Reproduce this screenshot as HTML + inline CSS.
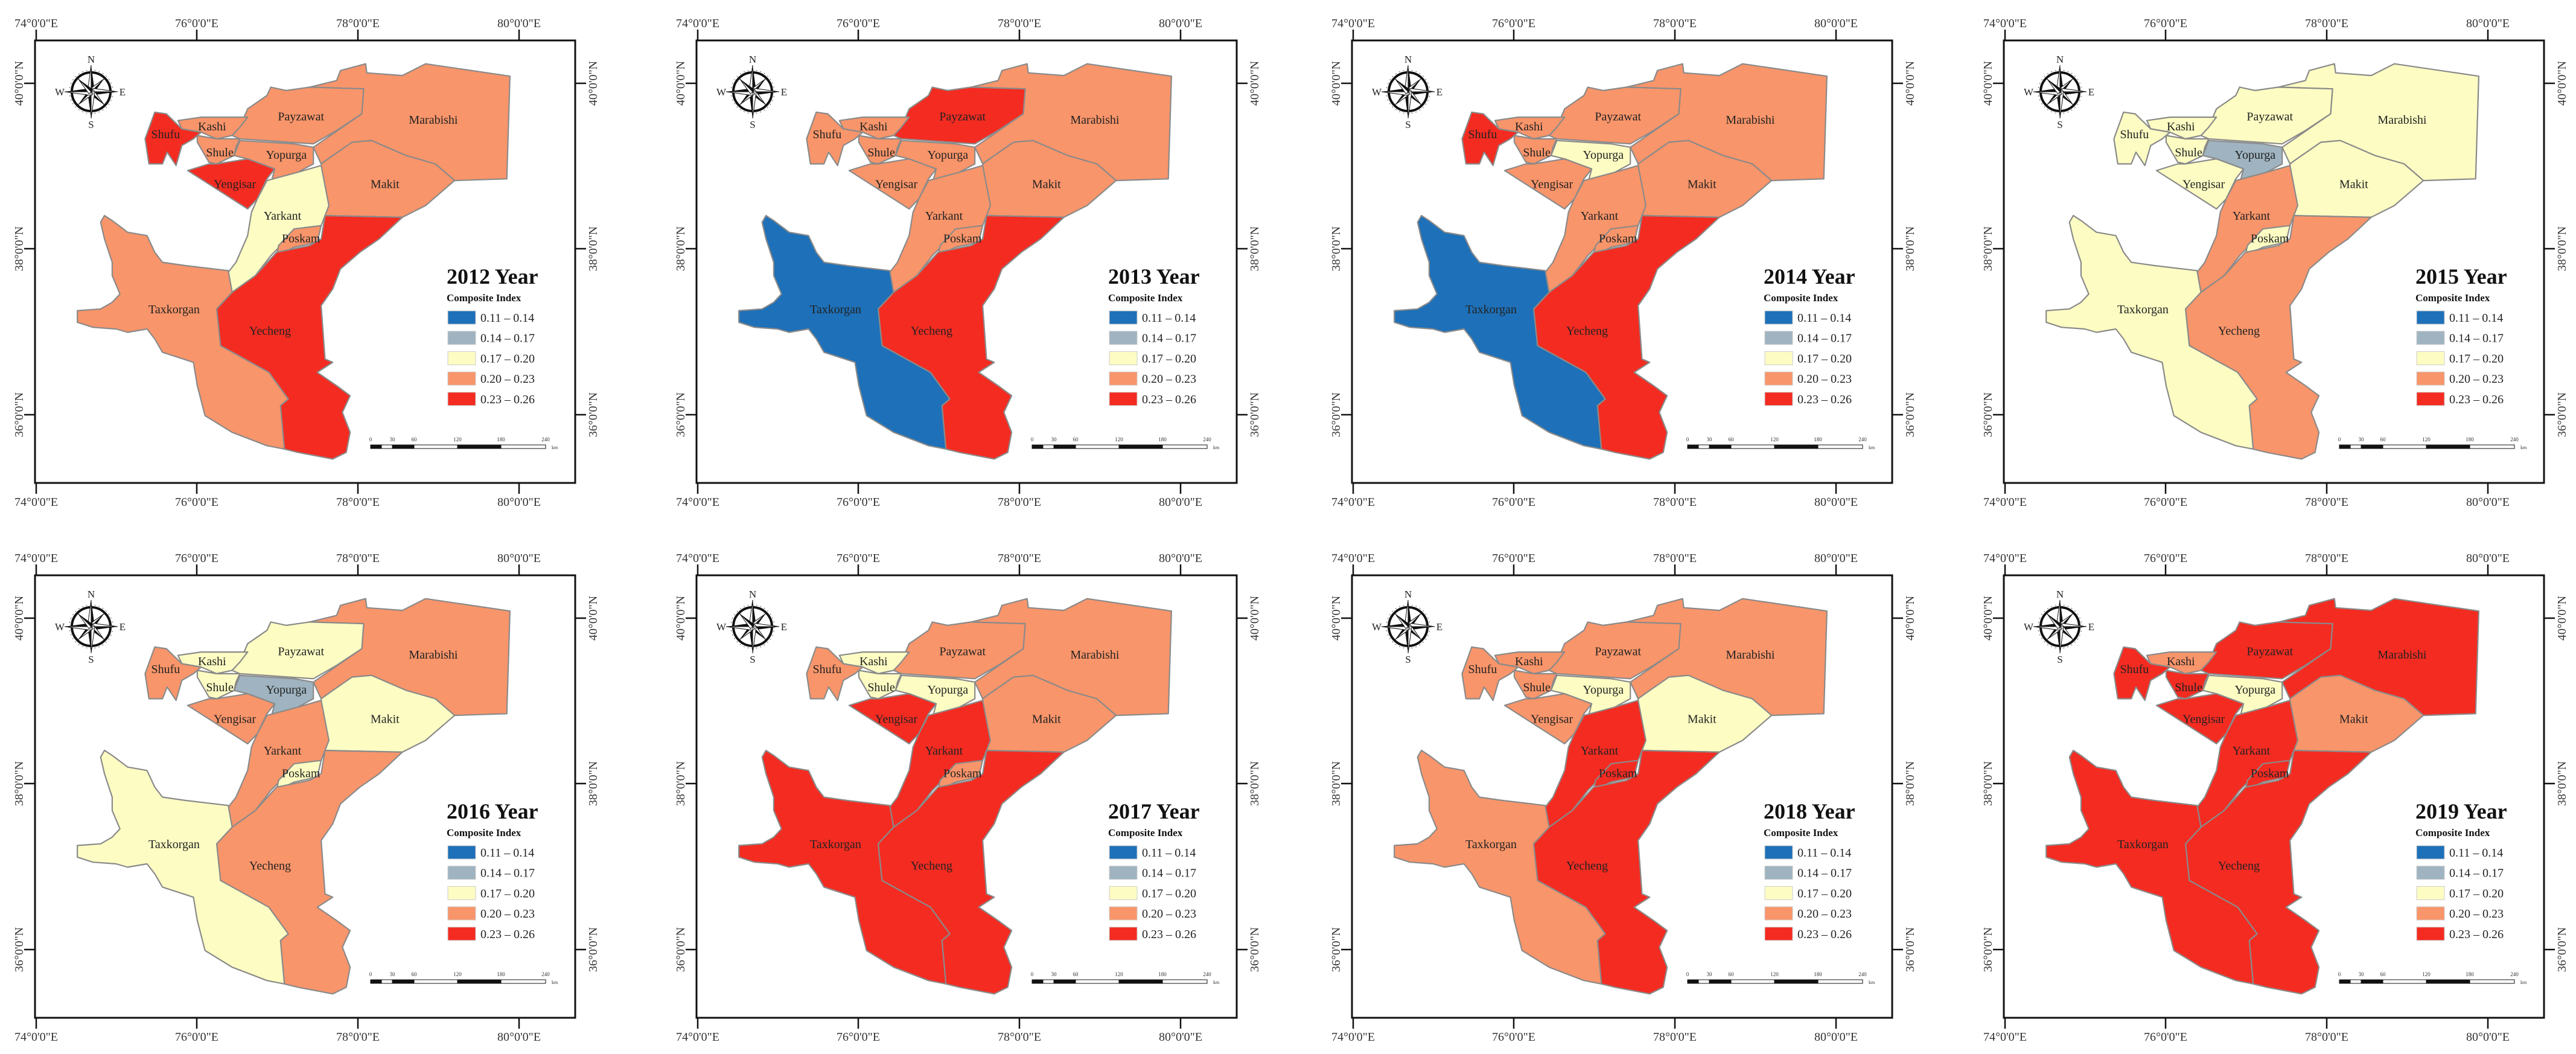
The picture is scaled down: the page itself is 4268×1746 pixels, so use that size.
<!DOCTYPE html>
<html><head><meta charset="utf-8">
<style>
html,body{margin:0;padding:0;background:#fff;}
svg{display:block;}
text{font-family:"Liberation Serif",serif;}
</style></head>
<body>
<svg id="root" width="4268" height="1746" viewBox="0 0 4268 1746" xmlns="http://www.w3.org/2000/svg"></svg>
<script>
const years = ['2012','2013','2014','2015','2016','2017','2018','2019'];
const districts = ['Marabishi','Payzawat','Kashi','Shufu','Shule','Yopurga','Yengisar','Makit','Yarkant','Poskam','Yecheng','Taxkorgan'];
const classes2012 = [3,3,3,4,3,3,4,3,2,3,4,3];
const classes2013 = [3,4,3,3,3,3,3,3,3,3,4,0];
const classes2014 = [3,3,3,4,3,2,3,3,3,3,4,0];
const classes2015 = [2,2,2,2,2,1,2,2,3,2,3,2];
const classes2016 = [3,2,2,3,2,1,3,2,3,2,3,2];
const classes2017 = [3,3,2,3,2,2,4,3,4,3,4,4];
const classes2018 = [3,3,3,3,3,2,3,2,4,4,4,3];
const classes2019 = [4,4,3,4,4,2,4,3,4,4,4,4];
const legendLabels = ['0.11 – 0.14','0.14 – 0.17','0.17 – 0.20','0.20 – 0.23','0.23 – 0.26'];
const lonTicks = ['74°0\'0"E','76°0\'0"E','78°0\'0"E','80°0\'0"E'];
const latTicks = ['40°0\'0"N','38°0\'0"N','36°0\'0"N'];
const scaleLabels = ['0','30','60','120','180','240'];
const allClasses=[classes2012,classes2013,classes2014,classes2015,classes2016,classes2017,classes2018,classes2019];
const palette=['#1e70b8','#9fb4c0','#fdfdc3','#f9956a','#f42b21'];

const shapes={
Marabishi:"800,265 870,245 880,215 945,195 948,222 1040,230 1100,195 1318,232 1310,540 1175,545 1125,495 1050,470 960,425 910,430 848,480 830,495 810,445 935,345 940,270",
Payzawat:"690,290 700,265 740,275 800,265 940,270 935,345 870,395 810,435 620,420 600,410 620,385 640,330",
Kashi:"460,365 520,355 640,355 620,385 600,410 560,420 520,400 470,390",
Shufu:"400,340 430,345 470,390 520,400 500,420 470,440 455,500 432,460 420,495 385,495 375,420",
Shule:"510,410 560,420 620,420 610,445 605,470 560,495 540,490 510,430",
Yopurga:"620,425 760,435 810,445 810,495 770,520 745,545 700,555 710,510 640,480 605,470",
Yengisar:"485,515 540,495 560,495 640,480 710,510 690,540 665,600 640,630",
Makit:"848,480 910,430 960,425 1050,470 1125,495 1175,545 1100,620 1040,655 840,650 830,495",
Yarkant:"690,545 770,520 830,500 850,620 830,680 760,700 700,770 660,830 600,880 590,820 610,790 640,710 650,640 665,600",
Poskam:"760,690 830,680 820,730 760,745 715,770 720,740",
Yecheng:"840,650 1040,655 980,720 930,760 880,810 860,870 830,920 840,1080 860,1090 820,1120 870,1160 905,1190 885,1240 905,1300 895,1360 860,1380 770,1360 735,1350 725,1220 745,1200 695,1120 570,1040 560,930 600,880 660,830 715,760 800,740 830,720",
Taxkorgan:"270,650 290,665 330,700 380,710 400,760 420,790 480,800 590,815 600,880 560,930 570,1040 695,1120 745,1200 725,1220 735,1350 690,1340 600,1300 530,1250 510,1160 500,1090 420,1060 400,1020 380,990 330,1000 300,990 240,985 200,970 200,935 260,930 290,910 310,885 290,830 290,790 270,720 260,670"
};
const labelPos={Payzawat:[778,352],Marabishi:[1120,362],Kashi:[548,382],Shufu:[428,405],Shule:[568,460],Yopurga:[740,467],Yengisar:[607,555],Makit:[995,555],Yarkant:[730,650],Poskam:[778,718],Taxkorgan:[450,930],Yecheng:[698,995]};

const NS='http://www.w3.org/2000/svg';
const root=document.getElementById('root');
function mk(tag,attrs,parent){const e=document.createElementNS(NS,tag);for(const k in attrs)e.setAttribute(k,attrs[k]);(parent||root).appendChild(e);return e;}
function tx(x){return x/1.56-58;}
function ty(y){return y/1.81-69;}
function conv(pts){return pts.split(' ').map(p=>{const [a,b]=p.split(',').map(Number);return tx(a).toFixed(1)+','+ty(b).toFixed(1);}).join(' ');}

const colX=[58,1154,2240,3320], rowY=[67,953];
const W=895,H=733;
const lonPx=[2,268,535,802], latPx=[71,345,620];

years.forEach((yr,i)=>{
  const ox=colX[i%4], oy=rowY[Math.floor(i/4)];
  const g=mk('g',{transform:`translate(${ox},${oy})`});
  
  
  const fr=mk('rect',{x:0,y:0,width:W,height:H,fill:'#fff',stroke:'#111','stroke-width':3},g);
  
  
  lonTicks.forEach((lab,j)=>{
    const x=lonPx[j];
    mk('line',{x1:x,y1:0,x2:x,y2:-18,stroke:'#111','stroke-width':2.5},g);
    mk('line',{x1:x,y1:H,x2:x,y2:H+18,stroke:'#111','stroke-width':2.5},g);
    const t1=mk('text',{x:x,y:-22,'font-size':20,'text-anchor':'middle',fill:'#333'},g);t1.textContent=lab;
    
    
    const t2=mk('text',{x:x,y:H+38,'font-size':20,'text-anchor':'middle',fill:'#333'},g);t2.textContent=lab;
    
    
  });
  latTicks.forEach((lab,j)=>{
    const y=latPx[j];
    mk('line',{x1:0,y1:y,x2:-18,y2:y,stroke:'#111','stroke-width':2.5},g);
    mk('line',{x1:W,y1:y,x2:W+18,y2:y,stroke:'#111','stroke-width':2.5},g);
    const t1=mk('text',{x:0,y:0,'font-size':20,'text-anchor':'middle',fill:'#333',transform:`translate(-20,${y}) rotate(-90)`},g);t1.textContent=lab;
    
    
    const t2=mk('text',{x:0,y:0,'font-size':20,'text-anchor':'middle',fill:'#333',transform:`translate(${W+36},${y}) rotate(-90)`},g);t2.textContent=lab;
    
    
  });
  const cls=allClasses[i];
  districts.forEach((d,k)=>{
    const p=mk('polygon',{points:conv(shapes[d]),fill:palette[cls[k]],stroke:'#8a8a8a','stroke-width':2.2,'stroke-linejoin':'round'},g);
    
    
  });
  districts.forEach(d=>{
    const [a,b]=labelPos[d];
    const t=mk('text',{x:tx(a),y:ty(b)+7,'font-size':20,'text-anchor':'middle',fill:'#222'},g);t.textContent=d;
    
    
  });
  const c=mk('g',{transform:'translate(93,85)'},g);
  
  
  mk('circle',{cx:0,cy:0,r:32,fill:'none',stroke:'#111','stroke-width':4},c);
  mk('circle',{cx:0,cy:0,r:36,fill:'none',stroke:'#555','stroke-width':1,'stroke-dasharray':'2 5'},c);
  for(let a=0;a<8;a++){
    const L=a%2===0?44:30, w=a%2===0?6:5;
    const ang=a*45;
    mk('polygon',{points:`0,${-L} ${w},0 0,0`,fill:'#111',transform:`rotate(${ang})`},c);
    mk('polygon',{points:`0,${-L} ${-w},0 0,0`,fill:'#fff',stroke:'#111','stroke-width':1,transform:`rotate(${ang})`},c);
  }
  [['N',0,-48],['S',0,60],['W',-52,6],['E',52,6]].forEach(([l,x,y])=>{
    const t=mk('text',{x:x,y:y,'font-size':17,'text-anchor':'middle',fill:'#222'},c);t.textContent=l;
  });
  const tt=mk('text',{x:682,y:403,'font-size':36,'font-weight':'bold',fill:'#111'},g);tt.textContent=yr+' Year';
  
  
  const lt=mk('text',{x:682,y:432,'font-size':17,'font-weight':'bold',fill:'#111'},g);lt.textContent='Composite Index';
  
  
  legendLabels.forEach((lab,j)=>{
    const y=448+j*33.7;
    const r=mk('rect',{x:684,y:y,width:46,height:22,fill:palette[j],stroke:'#ccc','stroke-width':1},g);
    
    
    const t=mk('text',{x:738,y:y+18,'font-size':20,fill:'#222'},g);t.textContent=lab;
    
    
  });
  const sb=mk('g',{transform:'translate(556,670)'},g);
  
  
  const segs=[0,18,36,72,144,216,290];
  for(let s=0;s<6;s++){
    mk('rect',{x:segs[s],y:0,width:segs[s+1]-segs[s],height:6,fill:s%2===0?'#111':'#fff',stroke:'#111','stroke-width':1},sb);
  }
  const lx=[0,36,72,144,216,290];
  scaleLabels.forEach((lab,j)=>{
    const t=mk('text',{x:lx[j],y:-6,'font-size':9,'text-anchor':'middle',fill:'#333','font-family':'Liberation Sans,sans-serif'},sb);
    t.textContent=lab;
  });
  const km=mk('text',{x:300,y:7,'font-size':8,fill:'#333','font-family':'Liberation Sans,sans-serif'},sb);km.textContent='km';
});
</script>
</body></html>
